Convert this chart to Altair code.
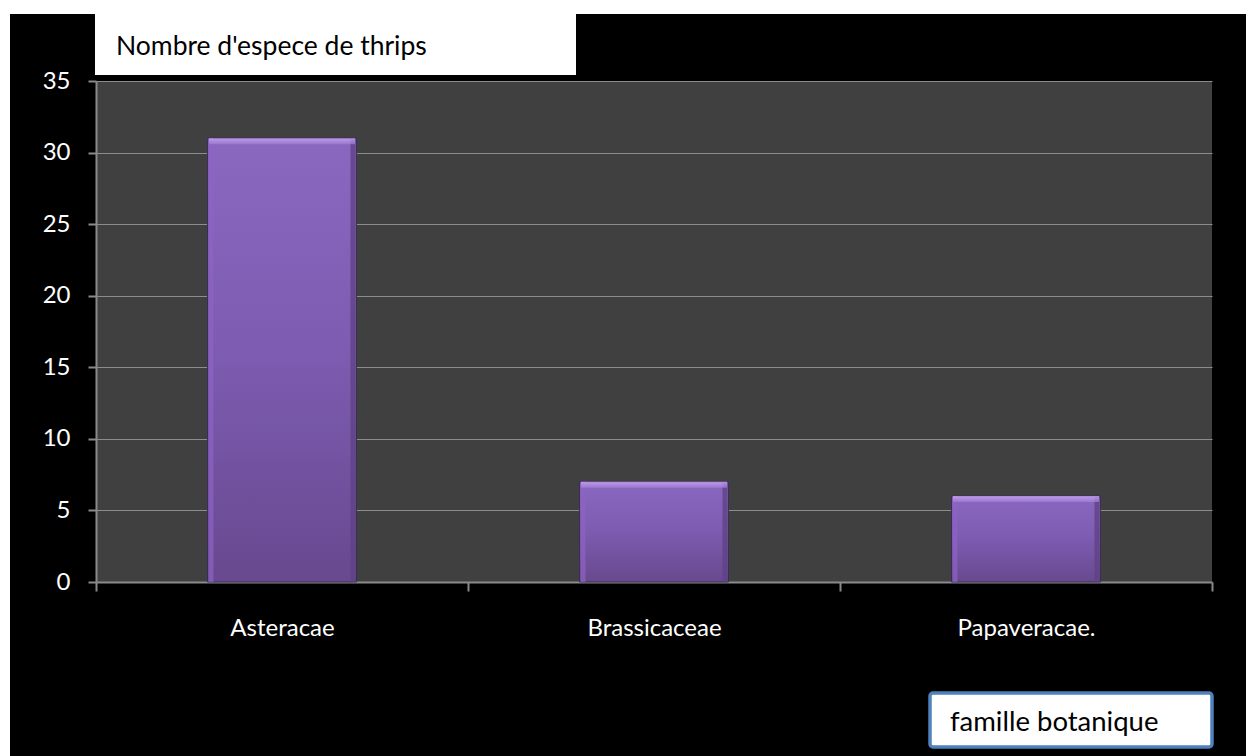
import altair as alt
import pandas as pd

# Species counts per botanical family
families = ["Asteracae", "Brassicaceae", "Papaveracae."]
species_counts = [31, 7, 6]
y_ticks = [0, 5, 10, 15, 20, 25, 30, 35]

title_text = "Nombre d'espece de thrips"
axis_note = "famille botanique"

FONT = "Lato"
W, H = 1116, 501

df = pd.DataFrame({"famille": families, "n": species_counts})
one = pd.DataFrame({"k": [0]})

x_enc = alt.X(
    "famille:N",
    sort=families,
    scale=alt.Scale(paddingInner=0, paddingOuter=0),
    axis=alt.Axis(
        title=None,
        labelAngle=0,
        labelColor="white",
        labelFont=FONT,
        labelFontSize=24,
        labelPadding=25,
        tickBand="extent",
        tickColor="#8a8a8a",
        tickSize=9,
        tickWidth=2,
        domainColor="#8a8a8a",
        domainWidth=2,
        grid=False,
    ),
)
y_enc = alt.Y(
    "n:Q",
    scale=alt.Scale(domain=[0, 35], nice=False),
    axis=alt.Axis(
        title=None,
        values=y_ticks,
        labelColor="white",
        labelFont=FONT,
        labelFontSize=24,
        labelPadding=18,
        tickColor="#8a8a8a",
        tickSize=8,
        tickWidth=2,
        domainColor="#8a8a8a",
        domainWidth=2,
        gridColor="#8c8c8c",
        gridWidth=1,
    ),
)

body_fill = alt.Gradient(
    gradient="linear",
    stops=[
        alt.GradientStop(color="#8a68c0", offset=0),
        alt.GradientStop(color="#7c5bb0", offset=0.5),
        alt.GradientStop(color="#68498f", offset=1),
    ],
    x1=0, x2=0, y1=0, y2=1,
)

bars = alt.Chart(df).mark_bar(
    width=alt.RelativeBandSize(0.4),
    color=body_fill,
    stroke="#3a2b55",
    strokeWidth=1,
).encode(x=x_enc, y=y_enc)

# bevelled edges of each bar
left_edge = alt.Chart(df).mark_bar(
    width=5, xOffset=-71, color="#8e62c4", opacity=0.7
).encode(x=alt.X("famille:N", sort=families), y="n:Q")
right_edge = alt.Chart(df).mark_bar(
    width=5, xOffset=71, color="#5e4285", opacity=0.8
).encode(x=alt.X("famille:N", sort=families), y="n:Q")
top_edge = alt.Chart(df).mark_tick(
    orient="horizontal", size=146, thickness=6, yOffset=3,
    color=alt.Gradient(
        gradient="linear",
        stops=[alt.GradientStop(color="#d6b0fc", offset=0),
               alt.GradientStop(color="#a07ed8", offset=1)],
        x1=0, x2=0, y1=0, y2=1,
    ),
).encode(x=alt.X("famille:N", sort=families), y="n:Q")

# page frame: thin white margin on the left and top
margin_left = alt.Chart(one).mark_rect(color="white").encode(
    x=alt.value(-96), x2=alt.value(-86), y=alt.value(-81), y2=alt.value(675))
margin_top = alt.Chart(one).mark_rect(color="white").encode(
    x=alt.value(-96), x2=alt.value(1150), y=alt.value(-81), y2=alt.value(-67))

title_box = alt.Chart(one).mark_rect(color="white").encode(
    x=alt.value(-1), x2=alt.value(480), y=alt.value(-81), y2=alt.value(-6))
title_label = alt.Chart(one).mark_text(
    text=title_text, align="left", baseline="alphabetic",
    font=FONT, fontSize=26.5, color="black",
).encode(x=alt.value(20), y=alt.value(-26))

note_box = alt.Chart(one).mark_rect(
    fill="white", stroke="#4f81bd", strokeWidth=3.5, cornerRadius=3
).encode(x=alt.value(834), x2=alt.value(1116), y=alt.value(612), y2=alt.value(666))
note_label = alt.Chart(one).mark_text(
    text=axis_note, align="left", baseline="alphabetic",
    font=FONT, fontSize=27.5, color="black",
).encode(x=alt.value(854), y=alt.value(650))

chart = alt.layer(
    bars, left_edge, right_edge, top_edge,
    margin_left, margin_top, title_box, title_label, note_box, note_label,
).properties(
    width=W, height=H,
    background="black",
    padding={"left": 96, "top": 81, "right": 34, "bottom": 174},
    autosize=alt.AutoSizeParams(type="none"),
).configure_view(fill="#404040", stroke=None)

chart.save("out.html", embed_options={"renderer": "svg", "actions": False})
